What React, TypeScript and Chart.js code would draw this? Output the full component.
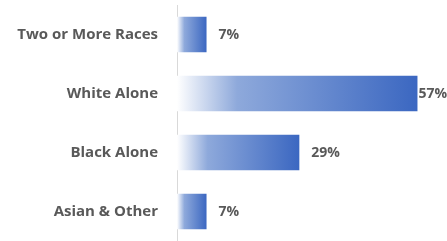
import React, { useEffect, useRef } from "react";
import { Chart, registerables } from "chart.js";

Chart.register(...registerables);

const categories = ["Two or More Races", "White Alone", "Black Alone", "Asian & Other"];
const values = [7, 57, 29, 7];
const valueLabels = ["7%", "57%", "29%", "7%"];

const FONT = "'Open Sans', Lato, sans-serif";

const valueLabelPlugin = {
  id: "valueLabels",
  afterDatasetsDraw(chart: any) {
    const { ctx } = chart;
    const meta = chart.getDatasetMeta(0);
    ctx.save();
    ctx.font = `bold 14px ${FONT}`;
    ctx.fillStyle = "#595959";
    ctx.textBaseline = "middle";
    ctx.textAlign = "left";
    meta.data.forEach((bar: any, i: number) => {
      const text = valueLabels[i];
      const w = ctx.measureText(text).width;
      let x = bar.x + 12;
      if (x + w > chart.width) x = chart.width - w;
      ctx.fillText(text, x, bar.y + 1);
    });
    ctx.restore();
  },
};

export default function App() {
  const ref = useRef<HTMLCanvasElement>(null);
  useEffect(() => {
    document.body.style.margin = "0";
    const canvas = ref.current!;
    const chart = new Chart(canvas, {
      type: "bar",
      data: {
        labels: categories,
        datasets: [
          {
            data: values,
            categoryPercentage: 1,
            barPercentage: 0.6,
            backgroundColor: (c: any) => {
              const ch = c.chart;
              const area = ch.chartArea;
              if (!area || c.dataIndex === undefined) return "#4472c4";
              const xs = ch.scales.x;
              const x0 = xs.getPixelForValue(0);
              const x1 = xs.getPixelForValue(values[c.dataIndex]);
              const g = ch.ctx.createLinearGradient(x0, 0, x1, 0);
              g.addColorStop(0, "#ffffff");
              g.addColorStop(0.25, "#8ea9db");
              g.addColorStop(1, "#3b67c1");
              return g;
            },
            borderWidth: 0,
          },
        ],
      },
      options: {
        indexAxis: "y",
        animation: false,
        responsive: false,
        maintainAspectRatio: false,
        layout: { padding: { top: 5, right: 0, bottom: 0, left: 0 } },
        plugins: { legend: { display: false }, tooltip: { enabled: false } },
        scales: {
          x: { display: false, min: 0, max: 64 },
          y: {
            afterFit: (s: any) => {
              s.width = 177;
              s.paddingTop = 0;
              s.paddingBottom = 0;
            },
            grid: { display: false, drawTicks: false },
            border: { display: true, color: "#d9d9d9", width: 1 },
            ticks: {
              padding: 19,
              color: "#595959",
              font: { family: FONT, size: 15, weight: "bold" },
            },
          },
        },
      },
      plugins: [valueLabelPlugin],
    });
    return () => chart.destroy();
  }, []);
  return (
    <div style={{ position: "fixed", left: 0, top: 0, width: 447, height: 241 }}>
      <canvas ref={ref} width={447} height={241} style={{ width: 447, height: 241 }} />
    </div>
  );
}
